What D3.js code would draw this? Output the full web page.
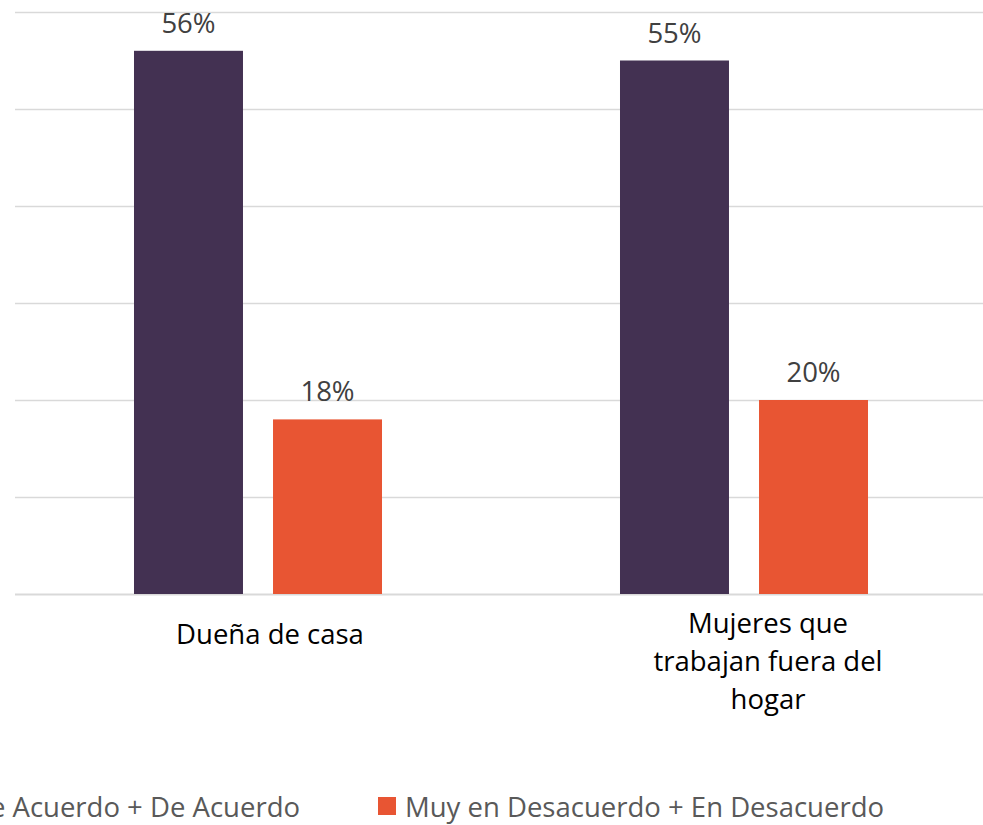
<!DOCTYPE html>
<html lang="es">
<head>
<meta charset="UTF-8">
<title>Bar chart</title>
<script src="https://d3js.org/d3.v7.min.js"></script>
<style>
  body { margin: 0; background: #fff; }
  svg { display: block; font-family: "Open Sans", Lato, sans-serif; }
</style>
</head>
<body>
<div id="chart"></div>
<script>
    var categories = ["Dueña de casa", "Mujeres que trabajan fuera del hogar"];
    var categoryLines = [["Dueña de casa"], ["Mujeres que", "trabajan fuera del", "hogar"]];
    var seriesNames = ["Muy de Acuerdo + De Acuerdo", "Muy en Desacuerdo + En Desacuerdo"];
    var acuerdo = [56, 55];
    var desacuerdo = [18, 20];
    var yTicks = [0, 10, 20, 30, 40, 50, 60];

    var colors = ["#433152", "#E85533"];
    var width = 983, height = 825;
    var fontSize = 27.5;
    // category labels sit a little right of the bar groups
    var labelShift = [12, 24];

    var svg = d3.select("#chart").append("svg")
        .attr("width", width)
        .attr("height", height);

    var y = d3.scaleLinear().domain([0, 60]).range([594, 12]);
    var x0 = d3.scaleBand().domain(categories).range([15, 987]);
    var x1 = d3.scaleBand().domain(seriesNames)
        .range([0, x0.bandwidth()])
        .paddingInner(0.216)
        .paddingOuter(0.856);

    // gridlines
    svg.append("g").selectAll("line")
        .data(yTicks)
        .enter().append("line")
            .attr("x1", 15).attr("x2", width)
            .attr("y1", function (d) { return Math.round(y(d)) + 0.5; })
            .attr("y2", function (d) { return Math.round(y(d)) + 0.5; })
            .attr("stroke", "#d9d9d9")
            .attr("stroke-width", function (d) { return d === 0 ? 2 : 1.5; });

    var table = categories.map(function (c, i) {
        return { cat: c, values: [acuerdo[i], desacuerdo[i]] };
    });

    var groups = svg.append("g").selectAll("g")
        .data(table)
        .enter().append("g")
            .attr("transform", function (d) { return "translate(" + x0(d.cat) + ",0)"; });

    var bars = groups.selectAll("g")
        .data(function (d) {
            return d.values.map(function (v, j) { return { s: seriesNames[j], v: v, j: j }; });
        })
        .enter().append("g");

    bars.append("rect")
        .attr("x", function (d) { return x1(d.s); })
        .attr("y", function (d) { return y(d.v); })
        .attr("width", x1.bandwidth())
        .attr("height", function (d) { return y(0) - y(d.v); })
        .attr("fill", function (d) { return colors[d.j]; });

    bars.append("text")
        .attr("x", function (d) { return x1(d.s) + x1.bandwidth() / 2; })
        .attr("y", function (d) { return y(d.v) - 18; })
        .attr("text-anchor", "middle")
        .attr("font-size", fontSize)
        .attr("fill", "#404040")
        .text(function (d) { return d.v + "%"; });

    // category labels
    var catLabels = svg.append("g").selectAll("text")
        .data(categories)
        .enter().append("text")
            .attr("text-anchor", "middle")
            .attr("font-size", fontSize)
            .attr("fill", "#000")
            .attr("x", function (d, i) { return x0(d) + x0.bandwidth() / 2 + labelShift[i]; })
            .attr("y", function (d, i) { return categoryLines[i].length > 1 ? 633 : 644; });
    catLabels.selectAll("tspan")
        .data(function (d, i) { return categoryLines[i]; })
        .enter().append("tspan")
            .attr("x", function () { return d3.select(this.parentNode).attr("x"); })
            .attr("dy", function (d, i) { return i === 0 ? 0 : 38; })
            .text(function (d) { return d; });

    // legend
    var legendX = [-100, 378];
    var legend = svg.append("g").selectAll("g")
        .data(seriesNames)
        .enter().append("g");
    legend.append("rect")
        .attr("x", function (d, i) { return legendX[i]; })
        .attr("y", 797)
        .attr("width", 18).attr("height", 18)
        .attr("fill", function (d, i) { return colors[i]; });
    legend.append("text")
        .attr("x", function (d, i) { return i === 0 ? 300 : legendX[i] + 27; })
        .attr("text-anchor", function (d, i) { return i === 0 ? "end" : "start"; })
        .attr("y", 817)
        .attr("font-size", fontSize)
        .attr("fill", "#595959")
        .text(function (d) { return d; });
</script>
</body>
</html>
